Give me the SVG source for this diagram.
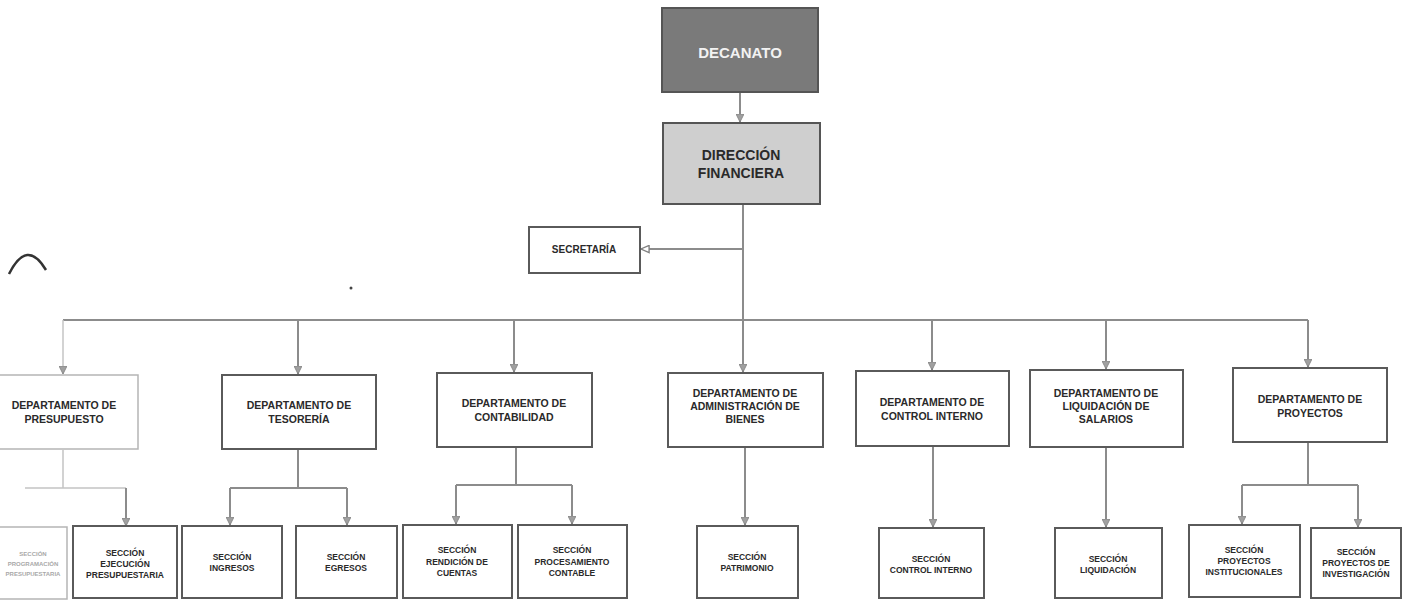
<svg xmlns="http://www.w3.org/2000/svg" width="1404" height="600" viewBox="0 0 1404 600">
<style>
.box{fill:#fff;stroke:#5a5a5a;stroke-width:2}
.faint{fill:#fff;stroke:#b5b5b5;stroke-width:1.5}
.t{font-family:"Liberation Sans",Arial,sans-serif;font-weight:bold;fill:#2a2a2a;text-anchor:middle}
.td{font-size:10.5px}
.ts{font-size:8.5px}
.tf{fill:#a8a8a8;font-size:6px}
.c{fill:none;stroke:#8c8c8c;stroke-width:2}
.cf{fill:none;stroke:#c4c4c4;stroke-width:1.5}
</style>
<defs>
<marker id="ah" viewBox="0 0 10 10" refX="10" refY="5" markerWidth="8" markerHeight="8" markerUnits="userSpaceOnUse" orient="auto">
<path d="M0,0 L10,5 L0,10 z" fill="#a0a0a0" stroke="#808080" stroke-width="1"/>
</marker>
<marker id="ao" viewBox="0 0 10 10" refX="10" refY="5" markerWidth="9" markerHeight="9" markerUnits="userSpaceOnUse" orient="auto">
<path d="M1,1 L10,5 L1,9 z" fill="#fff" stroke="#808080" stroke-width="1.5"/>
</marker>
</defs>
<rect width="1404" height="600" fill="#fff"/>
<path d="M9,274 Q27,238 46,270" fill="none" stroke="#333" stroke-width="2.5"/>
<circle cx="351" cy="288" r="1.5" fill="#444"/>
<g id="connectors">
<path class="c" d="M740,92 V122" marker-end="url(#ah)"/>
<path class="c" d="M743,204 V320"/>
<path class="c" d="M743,249 H641" marker-end="url(#ao)"/>
<path class="c" d="M63,320 H1308"/>
<path class="cf" d="M63,320 V374" marker-end="url(#ah)"/>
<path class="c" d="M298,320 V374" marker-end="url(#ah)"/>
<path class="c" d="M514,320 V372" marker-end="url(#ah)"/>
<path class="c" d="M743,320 V372" marker-end="url(#ah)"/>
<path class="c" d="M932,320 V370" marker-end="url(#ah)"/>
<path class="c" d="M1106,320 V369" marker-end="url(#ah)"/>
<path class="c" d="M1308,320 V367" marker-end="url(#ah)"/>
<path class="cf" d="M63,450 V488 M25,488 H126"/>
<path class="c" d="M126,488 V526" marker-end="url(#ah)"/>
<path class="c" d="M298,449 V488 M230,488 H347"/>
<path class="c" d="M230,488 V525" marker-end="url(#ah)"/>
<path class="c" d="M347,488 V525" marker-end="url(#ah)"/>
<path class="c" d="M516,447 V485 M456,485 H572"/>
<path class="c" d="M456,485 V524" marker-end="url(#ah)"/>
<path class="c" d="M572,485 V524" marker-end="url(#ah)"/>
<path class="c" d="M745,447 V525" marker-end="url(#ah)"/>
<path class="c" d="M933,446 V527" marker-end="url(#ah)"/>
<path class="c" d="M1106,447 V527" marker-end="url(#ah)"/>
<path class="c" d="M1308,442 V485 M1242,485 H1358"/>
<path class="c" d="M1242,485 V524" marker-end="url(#ah)"/>
<path class="c" d="M1358,485 V527" marker-end="url(#ah)"/>
</g>
<g id="decanato">
<rect x="662" y="8" width="156" height="84" fill="#7a7a7a" stroke="#555" stroke-width="2"/>
<text class="t" x="740" y="58" font-size="15" style="fill:#f2f2f2">DECANATO</text>
</g>
<g id="direccion">
<rect x="663" y="123" width="157" height="81" fill="#cfcfcf" stroke="#555" stroke-width="2"/>
<text class="t" x="741" y="160" font-size="14">DIRECCIÓN</text>
<text class="t" x="741" y="178" font-size="14">FINANCIERA</text>
</g>
<g id="secretaria">
<rect class="box" x="529" y="227" width="111" height="46"/>
<text class="t" x="584" y="253" font-size="10">SECRETARÍA</text>
</g>
<g id="dep-presupuesto">
<rect class="faint" x="-14" y="375" width="152" height="74"/>
<text class="t td" x="64" y="409">DEPARTAMENTO DE</text>
<text class="t td" x="64" y="423">PRESUPUESTO</text>
</g>
<g id="dep-tesoreria">
<rect class="box" x="222" y="375" width="154" height="74"/>
<text class="t td" x="299" y="409">DEPARTAMENTO DE</text>
<text class="t td" x="299" y="423">TESORERÍA</text>
</g>
<g id="dep-contabilidad">
<rect class="box" x="437" y="373" width="155" height="74"/>
<text class="t td" x="514" y="407">DEPARTAMENTO DE</text>
<text class="t td" x="514" y="421">CONTABILIDAD</text>
</g>
<g id="dep-administracion">
<rect class="box" x="668" y="373" width="155" height="74"/>
<text class="t td" x="745" y="397">DEPARTAMENTO DE</text>
<text class="t td" x="745" y="410">ADMINISTRACIÓN DE</text>
<text class="t td" x="745" y="423">BIENES</text>
</g>
<g id="dep-control">
<rect class="box" x="856" y="371" width="153" height="75"/>
<text class="t td" x="932" y="406">DEPARTAMENTO DE</text>
<text class="t td" x="932" y="420">CONTROL INTERNO</text>
</g>
<g id="dep-liquidacion">
<rect class="box" x="1030" y="370" width="153" height="77"/>
<text class="t td" x="1106" y="397">DEPARTAMENTO DE</text>
<text class="t td" x="1106" y="410">LIQUIDACIÓN DE</text>
<text class="t td" x="1106" y="423">SALARIOS</text>
</g>
<g id="dep-proyectos">
<rect class="box" x="1233" y="368" width="154" height="74"/>
<text class="t td" x="1310" y="403">DEPARTAMENTO DE</text>
<text class="t td" x="1310" y="417">PROYECTOS</text>
</g>
<g id="sec-programacion">
<rect class="faint" x="-45" y="527" width="112" height="72"/>
<text class="t ts tf" x="33" y="556">SECCIÓN</text>
<text class="t ts tf" x="33" y="566">PROGRAMACIÓN</text>
<text class="t ts tf" x="33" y="576">PRESUPUESTARIA</text>
</g>
<g id="sec-ejecucion">
<rect class="box" x="73" y="526" width="104" height="72"/>
<text class="t ts" x="125" y="556">SECCIÓN</text>
<text class="t ts" x="125" y="567">EJECUCIÓN</text>
<text class="t ts" x="125" y="578">PRESUPUESTARIA</text>
</g>
<g id="sec-ingresos">
<rect class="box" x="182" y="526" width="100" height="72"/>
<text class="t ts" x="232" y="560">SECCIÓN</text>
<text class="t ts" x="232" y="571">INGRESOS</text>
</g>
<g id="sec-egresos">
<rect class="box" x="296" y="526" width="101" height="72"/>
<text class="t ts" x="346" y="560">SECCIÓN</text>
<text class="t ts" x="346" y="571">EGRESOS</text>
</g>
<g id="sec-rendicion">
<rect class="box" x="403" y="525" width="109" height="73"/>
<text class="t ts" x="457" y="553">SECCIÓN</text>
<text class="t ts" x="457" y="565">RENDICIÓN DE</text>
<text class="t ts" x="457" y="576">CUENTAS</text>
</g>
<g id="sec-procesamiento">
<rect class="box" x="518" y="525" width="109" height="73"/>
<text class="t ts" x="572" y="553">SECCIÓN</text>
<text class="t ts" x="572" y="565">PROCESAMIENTO</text>
<text class="t ts" x="572" y="576">CONTABLE</text>
</g>
<g id="sec-patrimonio">
<rect class="box" x="697" y="526" width="101" height="72"/>
<text class="t ts" x="747" y="560">SECCIÓN</text>
<text class="t ts" x="747" y="571">PATRIMONIO</text>
</g>
<g id="sec-control">
<rect class="box" x="879" y="528" width="105" height="70"/>
<text class="t ts" x="931" y="562">SECCIÓN</text>
<text class="t ts" x="931" y="573">CONTROL INTERNO</text>
</g>
<g id="sec-liquidacion">
<rect class="box" x="1055" y="528" width="107" height="70"/>
<text class="t ts" x="1108" y="562">SECCIÓN</text>
<text class="t ts" x="1108" y="573">LIQUIDACIÓN</text>
</g>
<g id="sec-institucionales">
<rect class="box" x="1189" y="525" width="111" height="72"/>
<text class="t ts" x="1244" y="553">SECCIÓN</text>
<text class="t ts" x="1244" y="564">PROYECTOS</text>
<text class="t ts" x="1244" y="575">INSTITUCIONALES</text>
</g>
<g id="sec-investigacion">
<rect class="box" x="1311" y="528" width="90" height="70"/>
<text class="t ts" x="1356" y="555">SECCIÓN</text>
<text class="t ts" x="1356" y="566">PROYECTOS DE</text>
<text class="t ts" x="1356" y="577">INVESTIGACIÓN</text>
</g>
</svg>
